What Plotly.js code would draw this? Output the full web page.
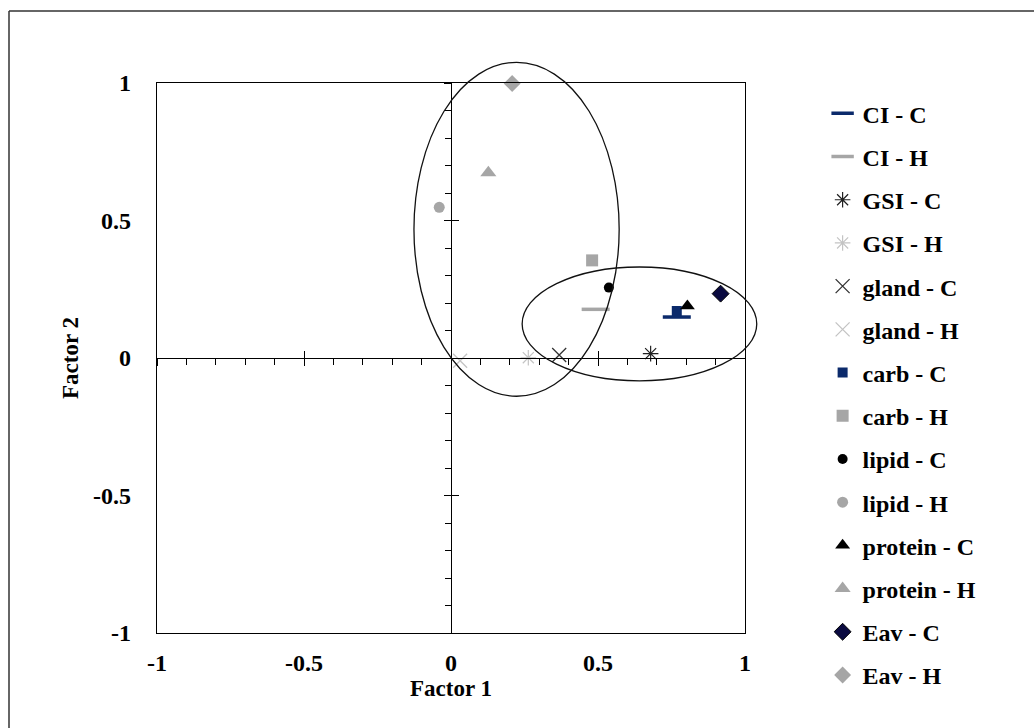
<!DOCTYPE html>
<html>
<head>
<meta charset="utf-8">
<script src="https://cdn.plot.ly/plotly-3.0.1.min.js"></script>
<style>html,body{margin:0;padding:0;background:#fff;}#chart{width:1034px;height:728px;}</style>
</head>
<body>
<div id="chart"></div>
<script>
// ---- data ----
var seriesNames = ['CI - C','CI - H','GSI - C','GSI - H','gland - C','gland - H','carb - C','carb - H','lipid - C','lipid - H','protein - C','protein - H','Eav - C','Eav - H'];
var factor1 = [0.768, 0.492, 0.679, 0.263, 0.368, 0.031, 0.768, 0.480, 0.537, -0.040, 0.804, 0.127, 0.917, 0.208];
var factor2 = [0.149, 0.177, 0.016, 0.001, 0.011, -0.010, 0.171, 0.355, 0.256, 0.548, 0.189, 0.674, 0.234, 0.998];
var tickVals = [-1, -0.5, 0, 0.5, 1];
var tickText = ['-1', '-0.5', '0', '0.5', '1'];
// grouping ellipses (centre and radii, in factor units)
var ellipseCx = [0.223, 0.641];
var ellipseCy = [0.468, 0.124];
var ellipseRx = [0.349, 0.399];
var ellipseRy = [0.607, 0.207];

// ---- styles ----
var navy = '#0B2A6B', grayC = '#A6A6A6', grayL = '#C4C4C4';
var styles = [
  {symbol:'line-ew', size:20, color:navy, lw:3.5, lc:navy},
  {symbol:'line-ew', size:20, color:grayC, lw:3.5, lc:grayC},
  {symbol:'asterisk-open', size:13, color:'#222', lw:1.2, lc:'#222'},
  {symbol:'asterisk-open', size:13, color:grayL, lw:1.2, lc:grayL},
  {symbol:'x-thin-open', size:14, color:'#333', lw:1.3, lc:'#333'},
  {symbol:'x-thin-open', size:14, color:grayL, lw:1.3, lc:grayL},
  {symbol:'square', size:10, color:navy, lw:0, lc:navy},
  {symbol:'square', size:12, color:grayC, lw:0, lc:grayC},
  {symbol:'circle', size:10, color:'#000', lw:0, lc:'#000'},
  {symbol:'circle', size:11, color:grayC, lw:0, lc:grayC},
  {symbol:'triangle-up', size:13, color:'#000', lw:0, lc:'#000'},
  {symbol:'triangle-up', size:14, color:grayC, lw:0, lc:grayC},
  {symbol:'diamond', size:13, color:'#0A0A40', lw:1, lc:'#000'},
  {symbol:'diamond', size:13, color:grayC, lw:0, lc:grayC}
];
var serif = 'Liberation Serif, Times New Roman, serif';

var traces = seriesNames.map(function(n, i){
  var s = styles[i];
  return {
    type:'scatter', mode:'markers', name:n, legendgroup:n,
    x:[factor1[i]], y:[factor2[i]], cliponaxis:false,
    marker:{symbol:s.symbol, size:s.size, color:s.color, line:{width:s.lw, color:s.lc}}
  };
});
// invisible traces to register crossing axes
traces.push({type:'scatter', mode:'markers', x:[], y:[], xaxis:'x2', yaxis:'y2', showlegend:false, hoverinfo:'skip'});
traces.push({type:'scatter', mode:'markers', x:[], y:[], xaxis:'x3', yaxis:'y3', showlegend:false, hoverinfo:'skip'});

var shapes = ellipseCx.map(function(cx, i){
  return {type:'circle', xref:'paper', yref:'paper',
    x0:(cx - ellipseRx[i] + 1)/2, x1:(cx + ellipseRx[i] + 1)/2,
    y0:(ellipseCy[i] - ellipseRy[i] + 1)/2, y1:(ellipseCy[i] + ellipseRy[i] + 1)/2,
    line:{color:'#111', width:1.3}, layer:'above'};
});
// outer frame (left and top edges)
shapes.push({type:'line', xref:'paper', yref:'paper', x0:-0.2517, x1:-0.2517, y0:-0.1727, y1:1.1309, line:{color:'#333', width:1.5}});
shapes.push({type:'line', xref:'paper', yref:'paper', x0:-0.2517, x1:1.4915, y0:1.1309, y1:1.1309, line:{color:'#333', width:1.5}});

var tickFont = {family:serif, size:24, color:'#000', weight:'bold'};
var titleFont = {family:serif, size:23, color:'#000', weight:'bold'};

var crossBase = {range:[-1,1], showgrid:false, zeroline:false, showticklabels:false, fixedrange:true};
function merge(a,b){var o={};for(var k in a)o[k]=a[k];for(var k2 in b)o[k2]=b[k2];return o;}

var layout = {
  width:1034, height:728,
  margin:{l:157, r:289, t:83, b:95},
  paper_bgcolor:'#fff', plot_bgcolor:'#fff',
  showlegend:true,
  legend:{x:1.132, xanchor:'left', y:0.985, yanchor:'top', tracegroupgap:9, maxheight:720,
          font:{family:serif, size:24, color:'#000', weight:'bold'}, itemwidth:30, bgcolor:'rgba(0,0,0,0)'},
  xaxis:{range:[-1,1], showline:true, mirror:true, linecolor:'#000', linewidth:1.2, ticks:'',
         tickvals:tickVals, ticktext:tickText, tickfont:tickFont, showgrid:false, zeroline:false,
         ticklabelstandoff:8, title:{text:'Factor 1', font:titleFont, standoff:2}},
  yaxis:{range:[-1,1], showline:true, mirror:true, linecolor:'#000', linewidth:1.2, ticks:'',
         tickvals:tickVals, ticktext:tickText, tickfont:tickFont, showgrid:false, zeroline:false,
         ticklabelstandoff:20, title:{text:'Factor 2', font:titleFont, standoff:8}},
  xaxis2:merge(crossBase, {overlaying:'x', anchor:'free', position:0.5, showline:true, linecolor:'#000', linewidth:1.2,
         ticks:'outside', ticklen:7, tickcolor:'#000', tick0:0, dtick:0.5,
         minor:{ticks:'outside', ticklen:6, dtick:0.1, tick0:0, tickcolor:'#000', showgrid:false}}),
  yaxis2:merge(crossBase, {overlaying:'y', anchor:'free', position:0.5, showline:true, linecolor:'#000', linewidth:1.2,
         ticks:'outside', ticklen:7, tickcolor:'#000', tick0:0, dtick:0.5,
         minor:{ticks:'outside', ticklen:6, dtick:0.1, tick0:0, tickcolor:'#000', showgrid:false}}),
  xaxis3:merge(crossBase, {overlaying:'x', anchor:'free', position:0.5, showline:false,
         ticks:'inside', ticklen:7, tickcolor:'#000', tick0:0, dtick:0.5}),
  yaxis3:merge(crossBase, {overlaying:'y', anchor:'free', position:0.5, showline:false,
         ticks:'inside', ticklen:7, tickcolor:'#000', tick0:0, dtick:0.5}),
  shapes:shapes
};

Plotly.newPlot('chart', traces, layout, {staticPlot:true, displayModeBar:false});
</script>
</body>
</html>
